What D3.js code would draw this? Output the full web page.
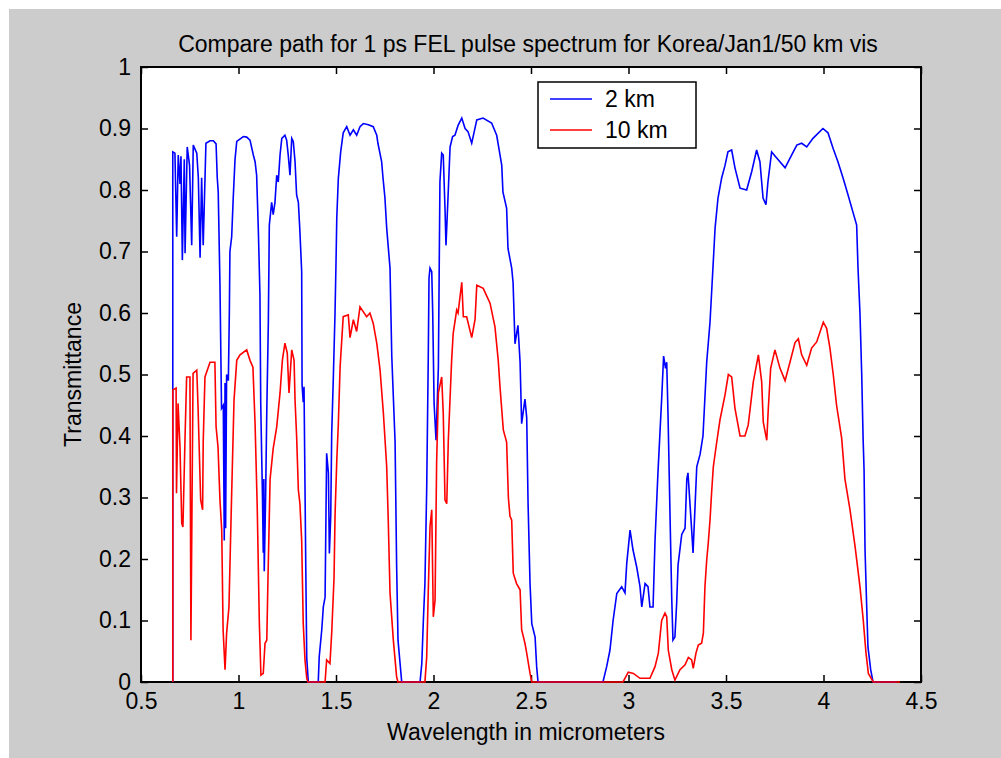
<!DOCTYPE html>
<html lang="en">
<head>
    <meta charset="UTF-8">
    <title>Compare path for 1 ps FEL pulse spectrum</title>
    <script src="https://cdnjs.cloudflare.com/ajax/libs/d3/7.8.5/d3.min.js"></script>
    <style>
        body {
            margin: 0;
            padding: 0;
            background: #fff;
        }
        svg text {
            font-family: "Liberation Sans", Arial, Helvetica, sans-serif;
            fill: #000;
        }
        .axis path, .axis line {
            stroke: #000;
        }
    </style>
</head>
<body>
    <div id="chart"></div>

    <script>
        // Chart text
        const chartTitle = 'Compare path for 1 ps FEL pulse spectrum for Korea/Jan1/50 km vis';
        const xLabel = 'Wavelength in micrometers';
        const yLabel = 'Transmittance';
        const seriesNames = ['2 km', '10 km'];
        const seriesColors = ['#0000ff', '#ff0000'];

        // Tick values
        const xTicks = [0.5, 1, 1.5, 2, 2.5, 3, 3.5, 4, 4.5];
        const yTicks = [0, 0.1, 0.2, 0.3, 0.4, 0.5, 0.6, 0.7, 0.8, 0.9, 1];

        // Transmittance for the 2 km path: [wavelength (um), transmittance]
        const path2km = [
            [0.663, 0], [0.663, 0.862], [0.674, 0.86], [0.683, 0.724], [0.691, 0.857], [0.700, 0.81],
            [0.705, 0.855], [0.712, 0.686], [0.722, 0.85], [0.726, 0.697], [0.737, 0.87], [0.749, 0.84],
            [0.760, 0.71], [0.768, 0.873], [0.786, 0.86], [0.794, 0.82], [0.803, 0.69], [0.811, 0.82],
            [0.819, 0.71], [0.833, 0.876], [0.854, 0.88], [0.871, 0.88], [0.885, 0.875], [0.891, 0.82],
            [0.896, 0.797], [0.905, 0.645], [0.913, 0.445], [0.922, 0.45], [0.927, 0.23], [0.931, 0.486],
            [0.934, 0.25], [0.939, 0.5], [0.948, 0.49], [0.953, 0.6], [0.956, 0.70], [0.965, 0.724],
            [0.973, 0.787], [0.982, 0.849], [0.991, 0.879], [1.025, 0.887], [1.042, 0.886], [1.059, 0.881],
            [1.076, 0.857], [1.085, 0.846], [1.093, 0.824], [1.102, 0.732], [1.110, 0.63], [1.114, 0.453],
            [1.119, 0.366], [1.123, 0.30], [1.127, 0.21], [1.130, 0.33], [1.132, 0.18], [1.139, 0.30],
            [1.145, 0.44], [1.153, 0.583], [1.158, 0.743], [1.170, 0.78], [1.178, 0.76], [1.187, 0.78],
            [1.196, 0.824], [1.204, 0.813], [1.213, 0.857], [1.222, 0.884], [1.238, 0.889], [1.247, 0.881],
            [1.255, 0.857], [1.264, 0.824], [1.273, 0.884], [1.281, 0.879], [1.290, 0.846], [1.298, 0.792],
            [1.307, 0.78], [1.315, 0.732], [1.324, 0.667], [1.326, 0.483], [1.332, 0.455], [1.336, 0.48],
            [1.341, 0.318], [1.345, 0.187], [1.350, 0.039], [1.358, 0], [1.409, 0], [1.414, 0.041],
            [1.427, 0.085], [1.435, 0.122], [1.444, 0.138], [1.452, 0.372], [1.461, 0.34], [1.466, 0.209],
            [1.473, 0.27], [1.478, 0.405], [1.486, 0.491], [1.495, 0.60], [1.500, 0.681], [1.504, 0.755],
            [1.512, 0.819], [1.524, 0.862], [1.537, 0.893], [1.555, 0.903], [1.572, 0.889], [1.589, 0.898],
            [1.606, 0.889], [1.623, 0.903], [1.640, 0.908], [1.666, 0.906], [1.691, 0.903], [1.709, 0.889],
            [1.715, 0.876], [1.734, 0.846], [1.741, 0.82], [1.751, 0.787], [1.760, 0.738], [1.777, 0.673],
            [1.786, 0.53], [1.803, 0.39], [1.811, 0.187], [1.818, 0.068], [1.837, 0], [1.931, 0],
            [1.940, 0.03], [1.948, 0.1], [1.956, 0.16], [1.965, 0.312], [1.973, 0.523], [1.977, 0.657],
            [1.982, 0.673], [1.991, 0.667], [1.996, 0.60], [2.003, 0.453], [2.013, 0.393], [2.025, 0.512],
            [2.033, 0.813], [2.042, 0.86], [2.050, 0.857], [2.059, 0.77], [2.064, 0.71], [2.076, 0.80],
            [2.085, 0.87], [2.098, 0.887], [2.110, 0.889], [2.126, 0.905], [2.145, 0.917], [2.162, 0.90],
            [2.177, 0.895], [2.196, 0.876], [2.222, 0.914], [2.254, 0.917], [2.298, 0.909], [2.324, 0.889],
            [2.341, 0.857], [2.350, 0.84], [2.356, 0.797], [2.375, 0.77], [2.382, 0.705], [2.401, 0.673],
            [2.408, 0.65], [2.418, 0.55], [2.433, 0.58], [2.444, 0.52], [2.452, 0.42], [2.469, 0.46],
            [2.478, 0.43], [2.485, 0.29], [2.495, 0.16], [2.504, 0.095], [2.521, 0.073], [2.529, 0.025],
            [2.536, 0], [2.869, 0], [2.888, 0.025], [2.905, 0.052], [2.921, 0.1], [2.940, 0.144],
            [2.965, 0.155], [2.982, 0.145], [2.991, 0.193], [3.008, 0.247], [3.023, 0.215], [3.042, 0.187],
            [3.059, 0.155], [3.068, 0.122], [3.085, 0.16], [3.100, 0.155], [3.110, 0.122], [3.126, 0.122],
            [3.136, 0.23], [3.151, 0.34], [3.170, 0.46], [3.180, 0.53], [3.190, 0.51], [3.196, 0.52],
            [3.203, 0.43], [3.213, 0.27], [3.222, 0.133], [3.228, 0.068], [3.238, 0.073], [3.247, 0.128],
            [3.254, 0.19], [3.273, 0.24], [3.290, 0.25], [3.299, 0.33], [3.305, 0.34], [3.324, 0.247],
            [3.331, 0.21], [3.350, 0.35], [3.367, 0.37], [3.382, 0.40], [3.401, 0.52], [3.418, 0.585],
            [3.433, 0.673], [3.444, 0.738], [3.459, 0.787], [3.478, 0.82], [3.495, 0.84], [3.510, 0.862],
            [3.529, 0.865], [3.546, 0.836], [3.572, 0.803], [3.606, 0.80], [3.632, 0.83], [3.657, 0.865],
            [3.674, 0.846], [3.690, 0.787], [3.705, 0.776], [3.715, 0.813], [3.734, 0.862], [3.760, 0.852],
            [3.803, 0.836], [3.837, 0.857], [3.863, 0.873], [3.888, 0.876], [3.914, 0.87], [3.946, 0.884],
            [3.997, 0.90], [4.023, 0.893], [4.049, 0.868], [4.074, 0.846], [4.100, 0.82], [4.126, 0.792],
            [4.151, 0.764], [4.170, 0.743], [4.177, 0.673], [4.187, 0.60], [4.196, 0.50], [4.203, 0.397],
            [4.208, 0.345], [4.213, 0.215], [4.222, 0.117], [4.228, 0.057], [4.242, 0.02], [4.254, 0],
            [4.375, 0]
        ];

        // Transmittance for the 10 km path
        const path10km = [
            [0.663, 0], [0.663, 0.475], [0.680, 0.478], [0.682, 0.307], [0.690, 0.453], [0.700, 0.382],
            [0.709, 0.258], [0.715, 0.252], [0.726, 0.40], [0.734, 0.496], [0.751, 0.496], [0.756, 0.068],
            [0.767, 0.502], [0.786, 0.507], [0.792, 0.453], [0.806, 0.296], [0.816, 0.28], [0.819, 0.39],
            [0.828, 0.496], [0.854, 0.52], [0.879, 0.52], [0.885, 0.415], [0.895, 0.382], [0.905, 0.296],
            [0.914, 0.247], [0.921, 0.085], [0.931, 0.02], [0.939, 0.079], [0.951, 0.122], [0.965, 0.307],
            [0.977, 0.458], [0.991, 0.523], [1.008, 0.532], [1.042, 0.54], [1.059, 0.523], [1.074, 0.512],
            [1.085, 0.42], [1.096, 0.285], [1.107, 0.095], [1.115, 0.011], [1.127, 0.014], [1.136, 0.063],
            [1.145, 0.068], [1.151, 0.165], [1.162, 0.33], [1.178, 0.38], [1.196, 0.415], [1.213, 0.47],
            [1.225, 0.523], [1.238, 0.551], [1.250, 0.535], [1.259, 0.47], [1.273, 0.54], [1.285, 0.523],
            [1.290, 0.458], [1.298, 0.40], [1.307, 0.312], [1.315, 0.29], [1.324, 0.23], [1.332, 0.095],
            [1.341, 0.036], [1.350, 0.006], [1.356, 0], [1.444, 0], [1.452, 0.036], [1.469, 0.03],
            [1.478, 0.08], [1.490, 0.17], [1.495, 0.27], [1.504, 0.36], [1.512, 0.42], [1.521, 0.512],
            [1.537, 0.594], [1.563, 0.597], [1.572, 0.56], [1.589, 0.589], [1.606, 0.57], [1.623, 0.61],
            [1.657, 0.594], [1.674, 0.60], [1.691, 0.583], [1.709, 0.551], [1.726, 0.507], [1.743, 0.437],
            [1.760, 0.35], [1.768, 0.263], [1.777, 0.145], [1.794, 0.068], [1.811, 0.008], [1.818, 0],
            [1.956, 0], [1.965, 0.04], [1.973, 0.145], [1.982, 0.252], [1.991, 0.28], [1.999, 0.106],
            [2.008, 0.133], [2.016, 0.356], [2.025, 0.47], [2.042, 0.496], [2.050, 0.437], [2.059, 0.296],
            [2.068, 0.29], [2.076, 0.393], [2.093, 0.523], [2.101, 0.567], [2.119, 0.605], [2.126, 0.60],
            [2.145, 0.65], [2.153, 0.594], [2.170, 0.594], [2.196, 0.56], [2.213, 0.589], [2.222, 0.645],
            [2.255, 0.64], [2.290, 0.616], [2.315, 0.578], [2.332, 0.523], [2.341, 0.48], [2.358, 0.41],
            [2.375, 0.39], [2.384, 0.30], [2.392, 0.27], [2.401, 0.263], [2.409, 0.177], [2.426, 0.16],
            [2.444, 0.15], [2.452, 0.085], [2.469, 0.063], [2.478, 0.047], [2.495, 0.014], [2.504, 0],
            [2.972, 0], [2.999, 0.016], [3.025, 0.014], [3.059, 0.006], [3.110, 0.006], [3.136, 0.025],
            [3.153, 0.047], [3.170, 0.1], [3.187, 0.112], [3.196, 0.106], [3.204, 0.052], [3.222, 0.02],
            [3.238, 0.003], [3.264, 0.02], [3.290, 0.028], [3.307, 0.04], [3.324, 0.036], [3.332, 0.022],
            [3.346, 0.047], [3.358, 0.06], [3.375, 0.063], [3.384, 0.08], [3.392, 0.155], [3.401, 0.198],
            [3.409, 0.226], [3.418, 0.263], [3.426, 0.307], [3.435, 0.35], [3.452, 0.389], [3.469, 0.426],
            [3.495, 0.467], [3.512, 0.50], [3.529, 0.496], [3.546, 0.445], [3.572, 0.40], [3.597, 0.40],
            [3.614, 0.418], [3.640, 0.488], [3.666, 0.532], [3.683, 0.488], [3.691, 0.423], [3.709, 0.393],
            [3.717, 0.445], [3.729, 0.51], [3.751, 0.54], [3.777, 0.51], [3.803, 0.49], [3.828, 0.52],
            [3.854, 0.552], [3.871, 0.558], [3.888, 0.532], [3.914, 0.515], [3.939, 0.543], [3.965, 0.553],
            [3.999, 0.585], [4.016, 0.575], [4.033, 0.543], [4.050, 0.50], [4.067, 0.45], [4.093, 0.397],
            [4.110, 0.33], [4.136, 0.28], [4.162, 0.22], [4.187, 0.155], [4.204, 0.10], [4.218, 0.047],
            [4.230, 0.014], [4.255, 0], [4.392, 0]
        ];

        const seriesData = [path2km, path10km];

        // Layout
        const width = 1001;
        const height = 758;
        const plot = { left: 141, right: 921, top: 67, bottom: 682 };
        const fontSize = '23px';

        const svg = d3.select('#chart')
            .append('svg')
            .attr('width', width)
            .attr('height', height);

        // Figure background (grey panel with a thin white margin)
        svg.append('rect')
            .attr('x', 9)
            .attr('y', 9)
            .attr('width', width - 9)
            .attr('height', height - 9)
            .attr('fill', '#cccccc');

        // Axes area
        svg.append('rect')
            .attr('x', plot.left)
            .attr('y', plot.top)
            .attr('width', plot.right - plot.left)
            .attr('height', plot.bottom - plot.top)
            .attr('fill', '#fff');

        const x = d3.scaleLinear().domain([0.5, 4.5]).range([plot.left, plot.right]);
        const y = d3.scaleLinear().domain([0, 1]).range([plot.bottom, plot.top]);

        const fmt = d => String(+d.toFixed(1));

        // Ticks point inward on all four sides
        svg.append('g')
            .attr('class', 'axis')
            .attr('transform', `translate(0,${plot.bottom})`)
            .call(d3.axisBottom(x).tickValues(xTicks).tickFormat(fmt)
                .tickSizeInner(-7).tickSizeOuter(0).tickPadding(11));

        svg.append('g')
            .attr('class', 'axis')
            .attr('transform', `translate(0,${plot.top})`)
            .call(d3.axisTop(x).tickValues(xTicks).tickFormat('')
                .tickSizeInner(-7).tickSizeOuter(0));

        svg.append('g')
            .attr('class', 'axis')
            .attr('transform', `translate(${plot.left},0)`)
            .call(d3.axisLeft(y).tickValues(yTicks).tickFormat(fmt)
                .tickSizeInner(-7).tickSizeOuter(0).tickPadding(10));

        svg.append('g')
            .attr('class', 'axis')
            .attr('transform', `translate(${plot.right},0)`)
            .call(d3.axisRight(y).tickValues(yTicks).tickFormat('')
                .tickSizeInner(-7).tickSizeOuter(0));

        svg.selectAll('.axis text')
            .style('font-size', fontSize)
            .attr('fill', '#000');
        svg.selectAll('.axis line').attr('stroke-width', 1.5);
        svg.selectAll('.axis .domain').remove();

        // Box around the axes
        svg.append('rect')
            .attr('x', plot.left)
            .attr('y', plot.top)
            .attr('width', plot.right - plot.left)
            .attr('height', plot.bottom - plot.top)
            .attr('fill', 'none')
            .attr('stroke', '#000')
            .attr('stroke-width', 2);

        // Series lines, drawn over the box like the original
        const line = d3.line()
            .x(d => x(d[0]))
            .y(d => y(d[1]));

        svg.append('g')
            .selectAll('path')
            .data(seriesData)
            .enter().append('path')
            .attr('d', line)
            .attr('fill', 'none')
            .attr('stroke', (d, i) => seriesColors[i])
            .attr('stroke-width', 1.6)
            .attr('stroke-linejoin', 'miter');

        // Title and axis labels
        svg.append('text')
            .attr('x', (plot.left + plot.right) / 2 - 3)
            .attr('y', 52)
            .attr('text-anchor', 'middle')
            .style('font-size', fontSize)
            .text(chartTitle);

        svg.append('text')
            .attr('x', (plot.left + plot.right) / 2 - 5)
            .attr('y', 740)
            .attr('text-anchor', 'middle')
            .style('font-size', fontSize)
            .text(xLabel);

        svg.append('text')
            .attr('transform', `translate(81,${(plot.top + plot.bottom) / 2}) rotate(-90)`)
            .attr('text-anchor', 'middle')
            .style('font-size', fontSize)
            .text(yLabel);

        // Legend
        const legend = svg.append('g').attr('transform', 'translate(538,82)');

        legend.append('rect')
            .attr('width', 158)
            .attr('height', 66)
            .attr('fill', '#fff')
            .attr('stroke', '#000')
            .attr('stroke-width', 1.5);

        const items = legend.selectAll('g.item')
            .data(seriesNames)
            .enter().append('g')
            .attr('class', 'item')
            .attr('transform', (d, i) => `translate(0,${17 + i * 31})`);

        items.append('line')
            .attr('x1', 12)
            .attr('x2', 54)
            .attr('stroke', (d, i) => seriesColors[i])
            .attr('stroke-width', 1.6);

        items.append('text')
            .attr('x', 67)
            .attr('y', 8)
            .style('font-size', fontSize)
            .text(d => d);
    </script>
</body>
</html>
